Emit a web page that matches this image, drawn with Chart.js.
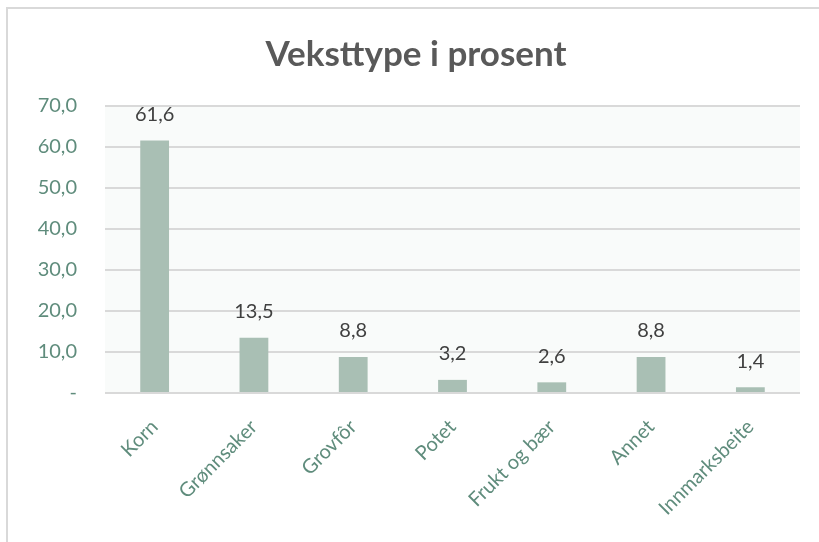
<!DOCTYPE html>
<html lang="no">
<head>
  <meta charset="UTF-8">
  <title>Veksttype i prosent</title>
  <style>
    body { margin: 0; background: #fff; }
    .frame {
      position: absolute; left: 6px; top: 7px; width: 830px; height: 560px;
      border: 2px solid #d9d9d9; box-sizing: border-box;
    }
    .chart-box { position: absolute; left: 0; top: 0; width: 819px; height: 542px; }
  </style>
</head>
<body>
  <div class="frame"></div>
  <div class="chart-box">
    <canvas id="chart" width="819" height="542"></canvas>
  </div>

  <script src="https://cdn.jsdelivr.net/npm/chart.js"></script>
  <script>
    const categories = ['Korn', 'Grønnsaker', 'Grovfôr', 'Potet', 'Frukt og bær', 'Annet', 'Innmarksbeite'];
    const shares = [61.6, 13.5, 8.8, 3.2, 2.6, 8.8, 1.4];
    const yTicks = [0, 10, 20, 30, 40, 50, 60, 70];
    const titleText = 'Veksttype i prosent';

    const fmt = v => v.toFixed(1).replace('.', ',');
    const FONT = 'Lato, "Open Sans", sans-serif';

    // light fill behind the plot area + the chart title
    const plotBg = {
      id: 'plotBg',
      beforeDraw(chart) {
        const a = chart.chartArea, ctx = chart.ctx;
        ctx.save();
        ctx.fillStyle = '#f9fbfa';
        ctx.fillRect(a.left, a.top, a.right - a.left, a.bottom - a.top);
        ctx.font = 'bold 35px ' + FONT;
        ctx.fillStyle = '#595959';
        ctx.textAlign = 'center';
        ctx.textBaseline = 'middle';
        ctx.fillText(titleText, chart.width * 0.508, 55);
        ctx.restore();
      }
    };

    // value labels above each bar
    const valueLabels = {
      id: 'valueLabels',
      afterDatasetsDraw(chart) {
        const ctx = chart.ctx;
        const meta = chart.getDatasetMeta(0);
        ctx.save();
        ctx.font = '20px ' + FONT;
        ctx.fillStyle = '#404040';
        ctx.textAlign = 'center';
        ctx.textBaseline = 'middle';
        meta.data.forEach((bar, i) => {
          ctx.fillText(fmt(shares[i]), bar.x, bar.y - 26);
        });
        ctx.restore();
      }
    };

    new Chart(document.getElementById('chart'), {
      type: 'bar',
      data: {
        labels: categories,
        datasets: [{
          data: shares,
          backgroundColor: '#a9bfb4',
          borderWidth: 0,
          categoryPercentage: 1,
          barPercentage: 0.29
        }]
      },
      options: {
        responsive: false,
        animation: false,
        layout: { padding: { top: 106, right: 19, bottom: 0, left: 0 } },
        scales: {
          x: {
            grid: { display: false, drawTicks: false },
            border: { display: false },
            ticks: {
              maxRotation: 45, minRotation: 45, padding: 22,
              color: '#5f8c7c', font: { family: FONT, size: 20 }
            },
            afterFit(scale) { scale.height = 149; }
          },
          y: {
            min: 0, max: 70,
            afterBuildTicks(scale) { scale.ticks = yTicks.map(v => ({ value: v })); },
            grid: { color: '#d9d9d9', lineWidth: 2, drawTicks: false },
            border: { display: false },
            ticks: {
              padding: 28, color: '#5f8c7c', font: { family: FONT, size: 20 },
              callback: v => v === 0 ? '-' : fmt(v)
            },
            afterFit(scale) { scale.width = 105; }
          }
        },
        plugins: {
          legend: { display: false },
          tooltip: { enabled: false },
          title: { display: false }
        }
      },
      plugins: [plotBg, valueLabels]
    });
  </script>
</body>
</html>
